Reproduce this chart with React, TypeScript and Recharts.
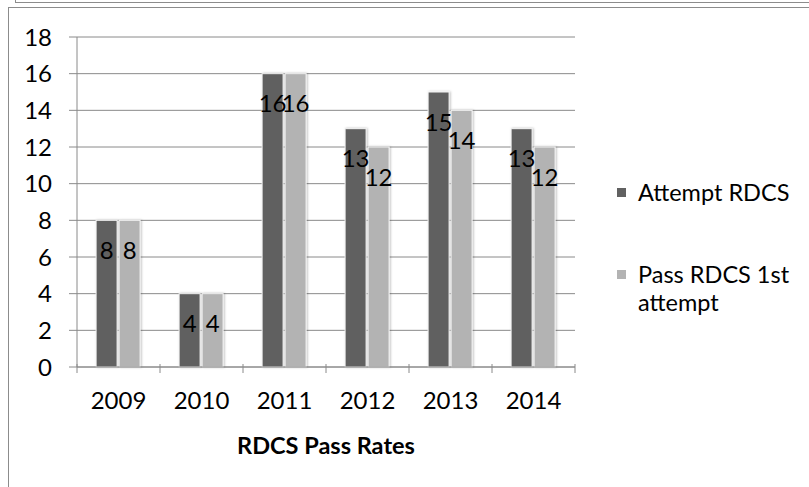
import { Bar, BarChart, CartesianGrid, Label, LabelList, XAxis, YAxis } from "recharts";

const years = ["2009", "2010", "2011", "2012", "2013", "2014"];
const attempted = [8, 4, 16, 13, 15, 13];
const passedFirst = [8, 4, 16, 12, 14, 12];
const yTicks = [0, 2, 4, 6, 8, 10, 12, 14, 16, 18];

const series = [
  { key: "attempt", name: "Attempt RDCS", color: "#616161" },
  { key: "pass", name: "Pass RDCS 1st attempt", color: "#b3b3b3" },
];

const data = years.map((year, i) => ({ year, attempt: attempted[i], pass: passedFirst[i] }));

const font = "Lato, Calibri, 'Open Sans', sans-serif";
const gridColor = "#8a8a8a";
const W = 809;
const H = 487;
const margin = { top: 37, right: 234, left: 17, bottom: 30 };
const band = (W - margin.left - 60 - margin.right) / years.length;

// labels sit a little below the top of each bar
const renderValue = (props: any) => {
  const { x, y, width, value } = props;
  return (
    <text x={x + width / 2} y={y + 29} textAnchor="middle" dominantBaseline="central" fontSize={24} fontFamily={font} fill="#000">
      {value}
    </text>
  );
};

// bars have a thin light rim and a soft shadow
const renderBar = (fill: string) => (props: any) => {
  const { x, y, width, height } = props;
  return <rect x={x} y={y} width={width} height={height} fill={fill} stroke="#f4f4f4" strokeWidth={1} filter="url(#barShadow)" />;
};

// category labels with tick marks on the band edges, as in spreadsheet charts
const XTick = (props: any) => {
  const { x, y, payload, index } = props;
  const axisY = y - 27;
  return (
    <g>
      <line x1={x - band / 2} x2={x - band / 2} y1={axisY} y2={axisY + 9} stroke={gridColor} />
      {index === years.length - 1 && <line x1={x + band / 2} x2={x + band / 2} y1={axisY} y2={axisY + 9} stroke={gridColor} />}
      <text x={x} y={axisY + 35} textAnchor="middle" dominantBaseline="central" fontSize={24} fontFamily={font} fill="#000">
        {payload.value}
      </text>
    </g>
  );
};

const LegendBox = () => (
  <div style={{ position: "absolute", left: 617, top: 178, fontFamily: font, fontSize: 23.5, color: "#000", lineHeight: "28px", width: 180 }}>
    {series.map((s, i) => (
      <div key={s.key} style={{ display: "flex", alignItems: "flex-start", marginTop: i === 0 ? 0 : 54 }}>
        <span style={{ width: 9, height: 9, background: s.color, marginTop: 10, marginRight: 12, flexShrink: 0 }} />
        <span>{s.name}</span>
      </div>
    ))}
  </div>
);

export default function App() {
  return (
    <div style={{ position: "absolute", left: 0, top: 0, width: W, height: H, overflow: "hidden", background: "#fff" }}>
      <div style={{ position: "absolute", left: 15, top: -10, width: 900, height: 12, borderLeft: "1px solid #8c8c8c", borderBottom: "1px solid #8c8c8c" }} />
      <div style={{ position: "absolute", left: 8, top: 7, width: 900, height: 600, borderLeft: "1px solid #8c8c8c", borderTop: "1px solid #8c8c8c" }} />
      <div style={{ position: "absolute", left: 0, top: 0 }}>
        <BarChart width={W} height={H} data={data} margin={margin} barCategoryGap="23%" barGap={2}>
          <defs>
            <filter id="barShadow" x="-20%" y="-10%" width="140%" height="120%">
              <feDropShadow dx="1" dy="0" stdDeviation="1.2" floodColor="#000" floodOpacity="0.25" />
            </filter>
          </defs>
          <CartesianGrid vertical={false} stroke={gridColor} strokeWidth={1} />
          <YAxis
            width={60}
            domain={[0, 18]}
            ticks={yTicks}
            interval={0}
            axisLine={{ stroke: gridColor }}
            tickLine={{ stroke: gridColor }}
            tickSize={8}
            tickMargin={17}
            tick={{ fontSize: 24, fontFamily: font, fill: "#000" }}
          />
          <XAxis dataKey="year" height={90} axisLine={{ stroke: gridColor }} tickLine={false} tickMargin={18} tick={<XTick />} interval={0}>
            <Label value="RDCS Pass Rates" position="insideBottom" offset={3} style={{ fontFamily: font, fontSize: 23.5, fontWeight: 700, fill: "#000" }} />
          </XAxis>
          {series.map((s) => (
            <Bar key={s.key} dataKey={s.key} name={s.name} fill={s.color} isAnimationActive={false} shape={renderBar(s.color)}>
              <LabelList dataKey={s.key} content={renderValue} />
            </Bar>
          ))}
        </BarChart>
      </div>
      <LegendBox />
    </div>
  );
}
